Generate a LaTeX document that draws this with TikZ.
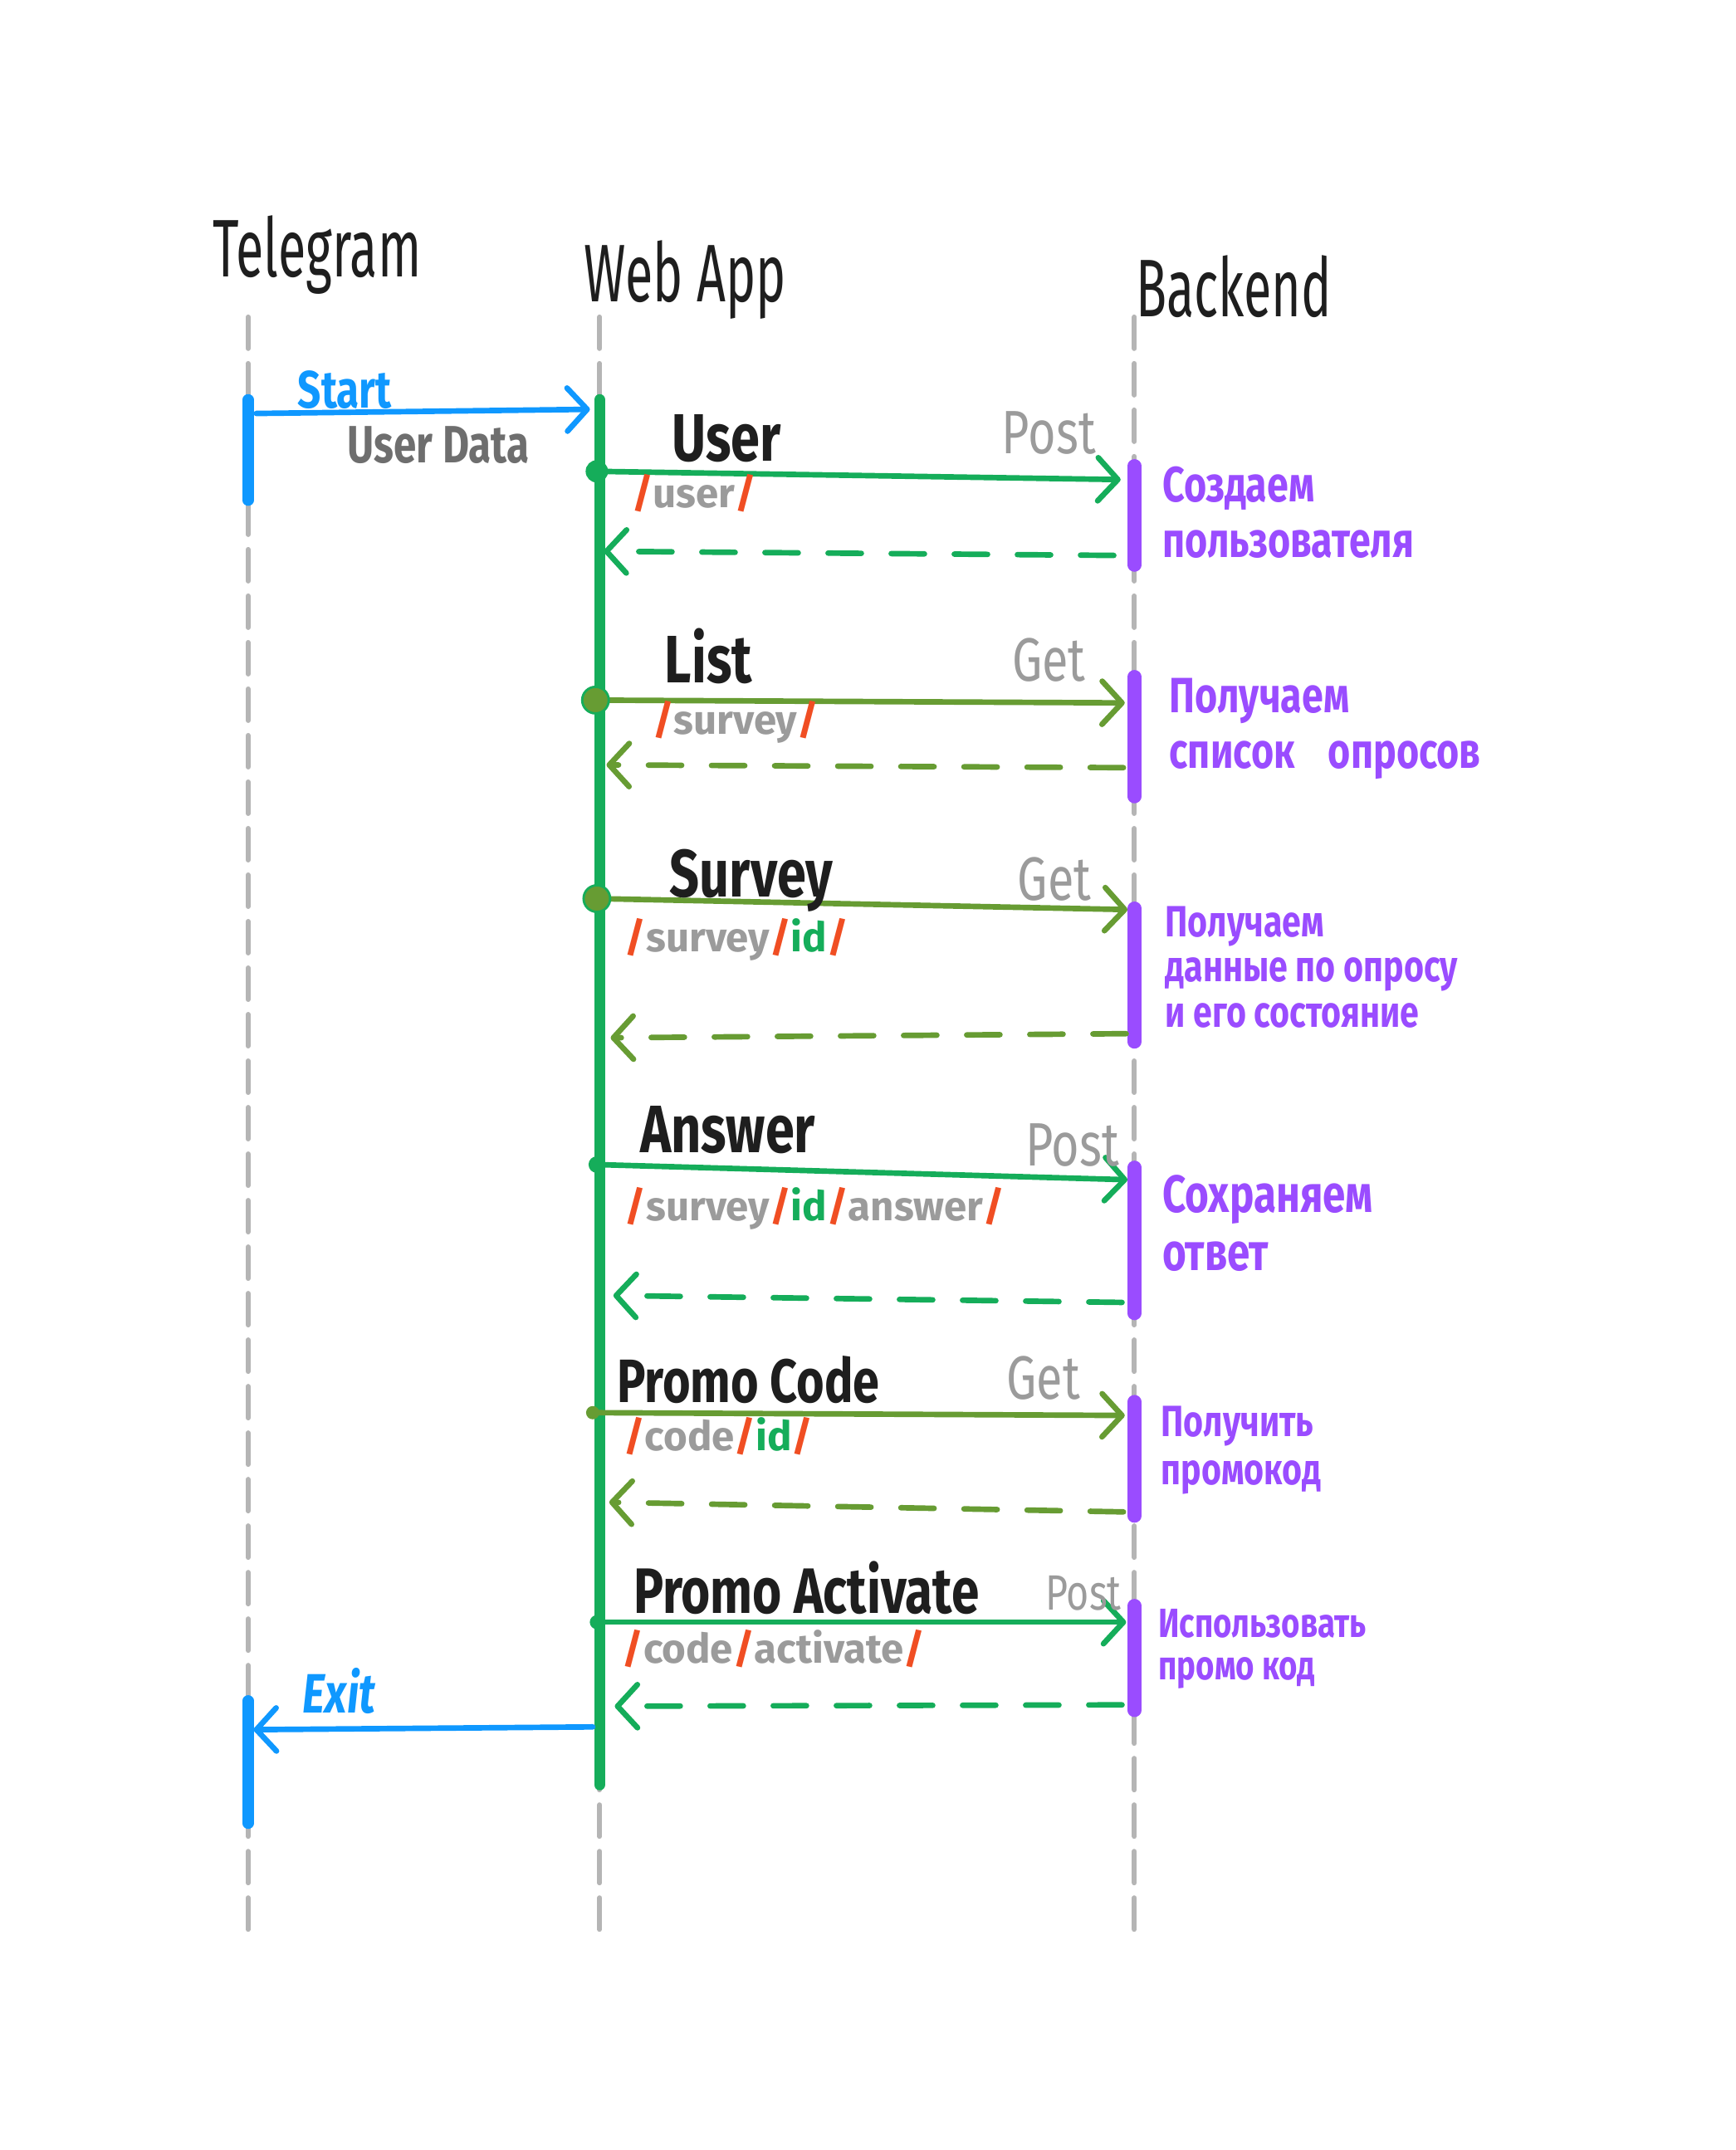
\documentclass[tikz,border=0pt]{standalone}
\usepackage{fontspec}
\setmainfont{Fira Sans}
\newfontfamily\handfont[FakeStretch=0.78]{Fira Sans}
\newfontfamily\headfont[FakeStretch=0.62]{Fira Sans}
\usetikzlibrary{arrows.meta, positioning}

\definecolor{tgblue}{HTML}{0F98FF}
\definecolor{appgreen}{HTML}{15AD5A}
\definecolor{getgreen}{HTML}{679C33}
\definecolor{backpurple}{HTML}{9A4CFF}
\definecolor{slashred}{HTML}{F04E23}
\definecolor{methgray}{HTML}{9B9B9B}
\definecolor{datagray}{HTML}{6E6E6E}
\definecolor{lifegray}{HTML}{B5B5B5}
\definecolor{ink}{HTML}{1E1E1E}

\newcommand{\pslash}{\textcolor{slashred}{/}}
\newcommand{\pid}{\textcolor{appgreen}{id}}

\begin{document}
\begin{tikzpicture}[x=0.166mm, y=-0.166mm,
	header/.style={font=\headfont\fontsize{28}{30}\selectfont, text=ink, inner sep=0pt},
	lifeline/.style={draw=lifegray, line width=1.7pt, line cap=round, dash pattern=on 3.8mm off 1.8mm},
	actbar/.style={line width=3.8pt, line cap=round},
	callmsg/.style={line width=1.9pt, line cap=round, -{Straight Barb[length=2.4mm, width=5.2mm, round]}},
	retmsg/.style={callmsg, dash pattern=on 4mm off 3.6mm},
	msglabel/.style={font=\handfont\bfseries\fontsize{23}{25}\selectfont, text=ink, inner sep=0pt},
	httpverb/.style={font=\handfont\fontsize{21}{22}\selectfont, text=methgray, inner sep=0pt},
	route/.style={font=\bfseries\fontsize{14}{15}\selectfont, text=methgray, inner sep=0pt, anchor=west},
	note/.style={font=\handfont\bfseries\fontsize{17}{19}\selectfont, text=backpurple, align=left, inner sep=0pt, anchor=north west},
	tglabel/.style={font=\handfont\bfseries\fontsize{18}{20}\selectfont, text=tgblue, inner sep=0pt},
	startdot/.style={circle, inner sep=0pt, minimum size=2mm}]
	\useasboundingbox (0,0) rectangle (1259,1560);
	
	% participants
	\node[header] (tg) at (230,185) {Telegram};
	\node[header] (app) at (497,203) {Web App};
	\node[header] (be) at (895,208) {Backend};
	\foreach \lx/\ln in {180/tg, 435/app, 823/be} {
		\coordinate (\ln-top) at (\lx,230);
		\coordinate (\ln-bot) at (\lx,1410);
		\draw[lifeline] (\ln-top) -- (\ln-bot);
	}
	
	% activations
	\draw[actbar, tgblue] (180,290) -- (180,363);
	\draw[actbar, tgblue] (180,1234) -- (180,1323);
	\draw[actbar, appgreen] (435,290) -- (435,1295);
	\foreach \ya/\yb in {338/410, 491/578, 659/756, 847/953, 1017/1100, 1165/1241}
		\draw[actbar, backpurple, line width=4.6pt] (823,\ya) -- (823,\yb);
	
	% telegram <-> web app
	\coordinate (start-s) at (186,300);
	\coordinate (start-e) at (428,297);
	\draw[callmsg, tgblue] (start-s) -- (start-e);
	\node[tglabel] (start-lbl) at (250,283) {Start};
	\node[tglabel, text=datagray] (data-lbl) at (318,323) {User Data};
	\coordinate (exit-s) at (430,1253);
	\coordinate (exit-e) at (184,1255);
	\draw[callmsg, tgblue] (exit-s) -- (exit-e);
	\node[tglabel, font=\handfont\bfseries\itshape\fontsize{19}{20}\selectfont] (exit-lbl) at (246,1227) {Exit};
	
	% web app <-> backend
	\coordinate (user-s) at (433,342);   \coordinate (user-e) at (813,348);
	\coordinate (user-rs) at (808,403);  \coordinate (user-re) at (438,400);
	\coordinate (list-s) at (432,508);   \coordinate (list-e) at (816,510);
	\coordinate (list-rs) at (815,557);  \coordinate (list-re) at (440,555);
	\coordinate (survey-s) at (433,652); \coordinate (survey-e) at (818,660);
	\coordinate (survey-rs) at (817,750);\coordinate (survey-re) at (443,753);
	\coordinate (answer-s) at (433,845); \coordinate (answer-e) at (818,856);
	\coordinate (answer-rs) at (814,945);\coordinate (answer-re) at (445,940);
	\coordinate (code-s) at (430,1025);  \coordinate (code-e) at (816,1027);
	\coordinate (code-rs) at (815,1097); \coordinate (code-re) at (442,1090);
	\coordinate (act-s) at (433,1177);   \coordinate (act-e) at (817,1177);
	\coordinate (act-rs) at (814,1237);  \coordinate (act-re) at (446,1238);
	
	\draw[callmsg, appgreen] (user-s) -- (user-e);
	\draw[retmsg, appgreen] (user-rs) -- (user-re);
	\draw[callmsg, getgreen] (list-s) -- (list-e);
	\draw[retmsg, getgreen] (list-rs) -- (list-re);
	\draw[callmsg, getgreen] (survey-s) -- (survey-e);
	\draw[retmsg, getgreen] (survey-rs) -- (survey-re);
	\draw[callmsg, appgreen] (answer-s) -- (answer-e);
	\draw[retmsg, appgreen] (answer-rs) -- (answer-re);
	\draw[callmsg, getgreen] (code-s) -- (code-e);
	\draw[retmsg, getgreen] (code-rs) -- (code-re);
	\draw[callmsg, appgreen] (act-s) -- (act-e);
	\draw[retmsg, appgreen] (act-rs) -- (act-re);
	
	\node[startdot, fill=appgreen, minimum size=2.7mm] (user-dot) at (user-s) {};
	\node[startdot, fill=getgreen, draw=appgreen, line width=0.8pt, minimum size=3.2mm] (list-dot) at (list-s) {};
	\node[startdot, fill=getgreen, draw=appgreen, line width=0.8pt, minimum size=3.2mm] (survey-dot) at (survey-s) {};
	\node[startdot, fill=appgreen] (answer-dot) at (answer-s) {};
	\node[startdot, fill=getgreen, minimum size=1.6mm] (code-dot) at (code-s) {};
	\node[startdot, fill=appgreen, minimum size=1.7mm] (act-dot) at (act-s) {};
	
	% labels
	\node[msglabel] (user-lbl) at (527,318) {User};
	\node[msglabel] (list-lbl) at (514,476) {List};
	\node[msglabel] (survey-lbl) at (545,639) {Survey};
	\node[msglabel] (answer-lbl) at (528,820) {Answer};
	\node[msglabel, font=\handfont\bfseries\fontsize{21}{23}\selectfont] (code-lbl) at (543,1001) {Promo Code};
	\node[msglabel, font=\handfont\bfseries\fontsize{22}{24}\selectfont] (act-lbl) at (585,1152) {Promo Activate};
	
	\node[httpverb] (user-verb) at (761,314) {Post};
	\node[httpverb] (list-verb) at (761,479) {Get};
	\node[httpverb] (survey-verb) at (765,638) {Get};
	\node[httpverb] (answer-verb) at (778,831) {Post};
	\node[httpverb] (code-verb) at (757,1000) {Get};
	\node[httpverb, font=\handfont\fontsize{17}{18}\selectfont] (act-verb) at (786,1156) {Post};
	
	\node[route] (user-route) at (458,358) {\pslash{}user\pslash};
	\node[route] (list-route) at (473,524) {\pslash{}survey\pslash};
	\node[route] (survey-route) at (453,682) {\pslash{}survey\pslash\pid\pslash};
	\node[route] (answer-route) at (453,877) {\pslash{}survey\pslash\pid\pslash{}answer\pslash};
	\node[route] (code-route) at (452,1042) {\pslash{}code\pslash\pid\pslash};
	\node[route] (act-route) at (451,1196) {\pslash{}code\pslash{}activate\pslash};
	
	% backend notes
	\node[note] (user-note) at (843,338) {Создаем\\пользователя};
	\node[note] (list-note) at (848,492) {Получаем\\список\hspace{4mm}опросов};
	\node[note, font=\handfont\bfseries\fontsize{15}{15.5}\selectfont] (survey-note) at (845,657) {Получаем\\данные по опросу\\и его состояние};
	\node[note, font=\handfont\bfseries\fontsize{18}{20}\selectfont] (answer-note) at (843,852) {Сохраняем\\ответ};
	\node[note, font=\handfont\bfseries\fontsize{15}{16.5}\selectfont] (code-note) at (842,1020) {Получить\\промокод};
	\node[note, font=\handfont\bfseries\fontsize{14}{14.5}\selectfont] (act-note) at (840,1167) {Использовать\\промо код};
\end{tikzpicture}
\end{document}
